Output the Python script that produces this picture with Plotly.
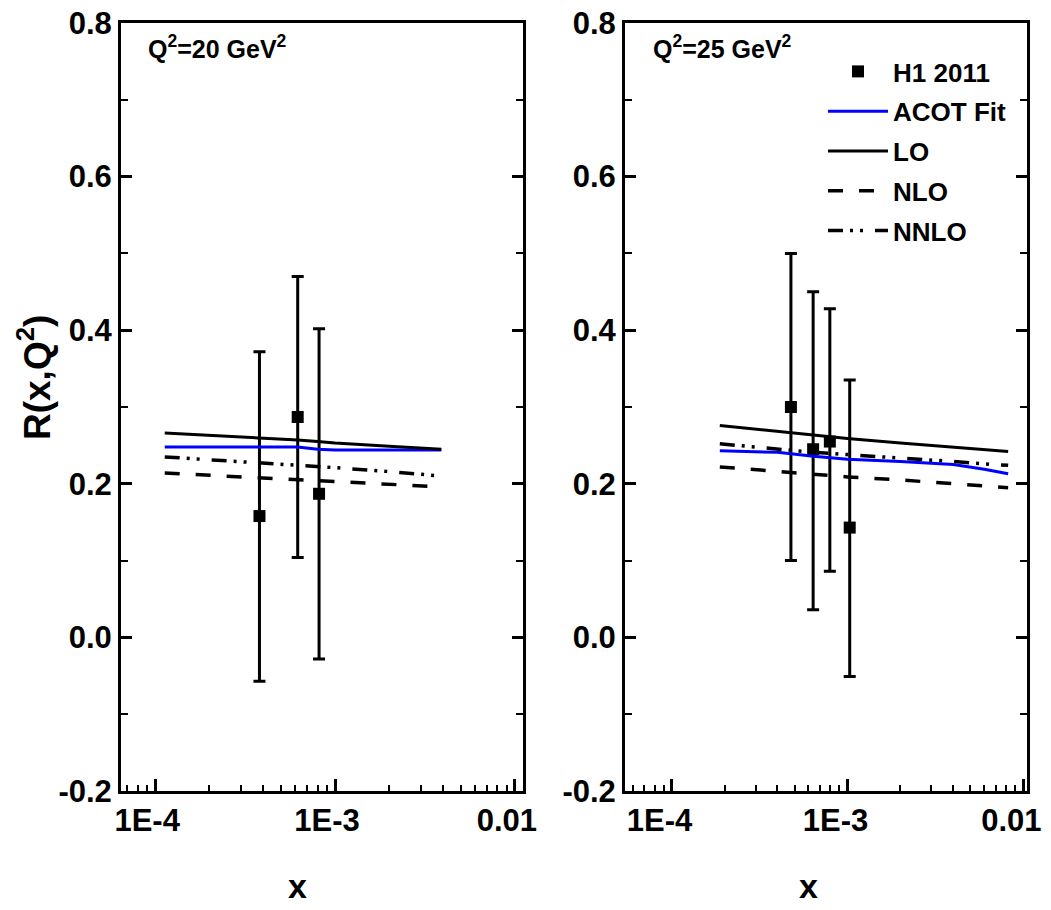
import plotly.graph_objects as go

# ---------------- data ----------------
# Left panel: Q^2 = 20 GeV^2
h1_x_20 = [3.8e-4, 6.2e-4, 8.15e-4]
h1_r_20 = [0.158, 0.287, 0.187]
h1_up_20 = [0.372, 0.470, 0.402]
h1_lo_20 = [-0.057, 0.104, -0.028]

th_x_20 = [1.13e-4, 3.0e-4, 6.2e-4, 8.0e-4, 1.0e-3, 2.0e-3, 3.9e-3]
acot_20 = [0.248, 0.248, 0.248, 0.245, 0.244, 0.244, 0.244]
lo_20 = [0.266, 0.261, 0.257, 0.255, 0.253, 0.249, 0.245]
nlo_20 = [0.214, 0.209, 0.205, 0.204, 0.203, 0.200, 0.196]
nnlo_20 = [0.235, 0.229, 0.224, 0.222, 0.221, 0.216, 0.210]

# Right panel: Q^2 = 25 GeV^2
h1_x_25 = [4.77e-4, 6.38e-4, 7.94e-4, 1.03e-3]
h1_r_25 = [0.300, 0.245, 0.255, 0.143]
h1_up_25 = [0.500, 0.450, 0.428, 0.335]
h1_lo_25 = [0.100, 0.036, 0.086, -0.051]

th_x_25 = [1.88e-4, 4.0e-4, 6.4e-4, 1.0e-3, 2.0e-3, 4.0e-3, 6.0e-3, 8.2e-3]
acot_25 = [0.243, 0.241, 0.236, 0.232, 0.229, 0.225, 0.219, 0.213]
lo_25 = [0.276, 0.268, 0.263, 0.259, 0.253, 0.248, 0.245, 0.242]
nlo_25 = [0.222, 0.216, 0.212, 0.209, 0.205, 0.200, 0.197, 0.195]
nnlo_25 = [0.252, 0.245, 0.241, 0.238, 0.234, 0.229, 0.226, 0.224]

x_tick_vals = [1e-4, 1e-3, 1e-2]
x_tick_text = ["1E-4", "1E-3", "0.01"]
y_tick_vals = [-0.2, 0.0, 0.2, 0.4, 0.6, 0.8]
y_tick_text = ["-0.2", "0.0", "0.2", "0.4", "0.6", "0.8"]

legend_names = ["H1 2011", "ACOT Fit", "LO", "NLO", "NNLO"]
panel_labels = ["Q<sup>2</sup>=20 GeV<sup>2</sup>", "Q<sup>2</sup>=25 GeV<sup>2</sup>"]

# ---------------- figure ----------------
FONT = "Liberation Sans, Arial, sans-serif"
W, H = 1051, 910

fig = go.Figure()

def add_panel(xa, ya, hx, hr, hup, hlo, tx, acot, lo, nlo, nnlo, show):
    fig.add_trace(go.Scatter(
        x=hx, y=hr, mode="markers", name=legend_names[0], showlegend=show,
        legendgroup="g0",
        marker=dict(symbol="square", size=12, color="black"),
        error_y=dict(type="data", symmetric=False,
                     array=[u - r for u, r in zip(hup, hr)],
                     arrayminus=[r - l for r, l in zip(hr, hlo)],
                     color="black", thickness=3, width=6),
        xaxis=xa, yaxis=ya))
    fig.add_trace(go.Scatter(x=tx, y=acot, mode="lines", name=legend_names[1],
                             showlegend=show, legendgroup="g1",
                             line=dict(color="#0000ff", width=3),
                             xaxis=xa, yaxis=ya))
    fig.add_trace(go.Scatter(x=tx, y=lo, mode="lines", name=legend_names[2],
                             showlegend=show, legendgroup="g2",
                             line=dict(color="black", width=3),
                             xaxis=xa, yaxis=ya))
    fig.add_trace(go.Scatter(x=tx, y=nlo, mode="lines", name=legend_names[3],
                             showlegend=show, legendgroup="g3",
                             line=dict(color="black", width=3.5, dash="15px,16px"),
                             xaxis=xa, yaxis=ya))
    fig.add_trace(go.Scatter(x=tx, y=nnlo, mode="lines", name=legend_names[4],
                             showlegend=show, legendgroup="g4",
                             line=dict(color="black", width=3.5,
                                       dash="15px,7px,3px,7px,3px,12px"),
                             xaxis=xa, yaxis=ya))

add_panel("x", "y", h1_x_20, h1_r_20, h1_up_20, h1_lo_20,
          th_x_20, acot_20, lo_20, nlo_20, nnlo_20, False)
add_panel("x2", "y2", h1_x_25, h1_r_25, h1_up_25, h1_lo_25,
          th_x_25, acot_25, lo_25, nlo_25, nnlo_25, True)

y_dom = [1 - 791 / H, 1 - 23 / H]
x1_dom = [121 / W, 523 / W]
x2_dom = [625 / W, 1027 / W]

minor_x = [m * 10.0 ** e for e in range(-5, -1) for m in range(2, 10)]

def xaxis_cfg(dom, rng, anchor, shift):
    return dict(
        type="log", domain=dom, range=rng, anchor=anchor,
        tickmode="array", tickvals=x_tick_vals, ticktext=x_tick_text,
        ticks="inside", ticklen=12, tickwidth=2.5, tickcolor="black",
        minor=dict(tickmode="array", tickvals=minor_x, ticks="inside",
                   ticklen=6, tickwidth=2, tickcolor="black", showgrid=False),
        showline=True, linewidth=3, linecolor="black", mirror=True,
        showgrid=False, zeroline=False,
        tickfont=dict(family=FONT, size=31, color="black", weight="bold"),
        ticklabelshift=shift, ticklabeloverflow="allow",
        automargin=False,
    )

def yaxis_cfg(anchor):
    return dict(
        domain=y_dom, range=[-0.2, 0.8], anchor=anchor,
        tickmode="array", tickvals=y_tick_vals, ticktext=y_tick_text,
        ticks="inside", ticklen=11, tickwidth=2.5, tickcolor="black",
        minor=dict(dtick=0.1, tick0=0, ticks="inside", ticklen=7,
                   tickwidth=2, tickcolor="black", showgrid=False),
        showline=True, linewidth=3, linecolor="black", mirror="ticks",
        showgrid=False, zeroline=False,
        tickfont=dict(family=FONT, size=31, color="black", weight="bold"),
        ticklabeloverflow="allow",
        automargin=False,
    )

fig.update_layout(
    width=W, height=H,
    margin=dict(l=0, r=0, t=0, b=0),
    paper_bgcolor="white", plot_bgcolor="white",
    font=dict(family=FONT, color="black"),
    xaxis=xaxis_cfg(x1_dom, [-4.19, -1.955], "y", -8),
    yaxis=yaxis_cfg("x"),
    xaxis2=xaxis_cfg(x2_dom, [-4.265, -1.979], "y2", -12),
    yaxis2=yaxis_cfg("x2"),
    legend=dict(x=823 / W, y=1 - 48 / H, xanchor="left", yanchor="top",
                bgcolor="rgba(0,0,0,0)", borderwidth=0,
                font=dict(family=FONT, size=26, color="black", weight="bold"),
                itemwidth=60, tracegroupgap=3),
    showlegend=True,
)

annos = [
    dict(text=panel_labels[0], x=146 / W, y=1 - 47 / H, xanchor="left", yanchor="middle",
         font=dict(size=25, weight="bold")),
    dict(text=panel_labels[1], x=651 / W, y=1 - 47 / H, xanchor="left", yanchor="middle",
         font=dict(size=25, weight="bold")),
    dict(text="x", x=297 / W, y=1 - 886 / H, xanchor="center", yanchor="middle",
         font=dict(size=34, weight="bold")),
    dict(text="x", x=808 / W, y=1 - 886 / H, xanchor="center", yanchor="middle",
         font=dict(size=34, weight="bold")),
    dict(text="R(x,Q<sup>2</sup>)", x=34 / W, y=1 - 378 / H, xanchor="center",
         yanchor="middle", textangle=-90, font=dict(size=37, weight="bold")),
]
for a in annos:
    a.update(xref="paper", yref="paper", showarrow=False)
    a["font"].update(family=FONT, color="black")
    fig.add_annotation(**a)

fig.write_html("out.html")
